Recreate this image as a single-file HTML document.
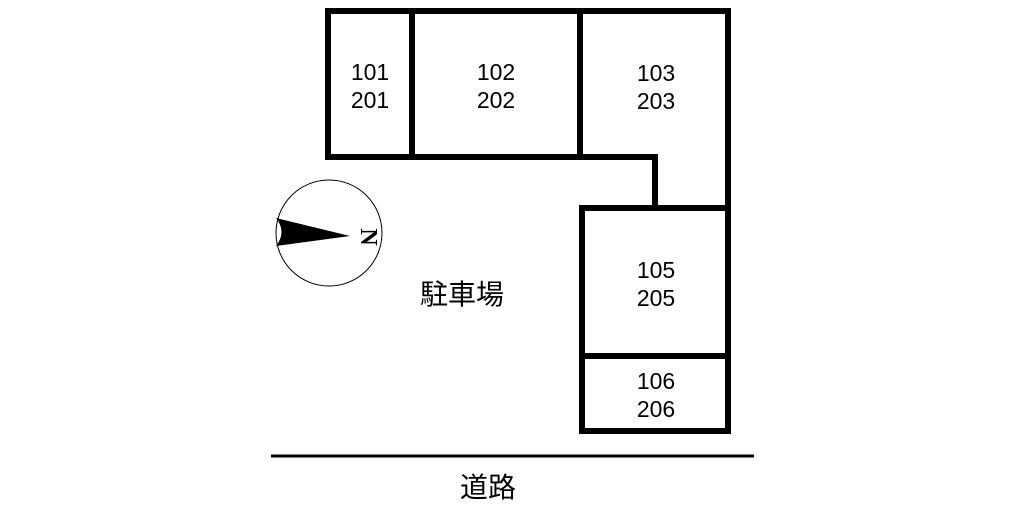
<!DOCTYPE html>
<html><head><meta charset="utf-8"><style>
body{margin:0;background:#fff;}
svg{display:block}
text{font-family:"Liberation Sans","Noto Sans CJK JP",sans-serif;font-size:23px;fill:#000;text-anchor:middle}
</style></head><body>
<svg width="1024" height="512" viewBox="0 0 1024 512">
<g stroke="#000" stroke-width="6" fill="none" stroke-linecap="square">
<path d="M328 11 H728 V431 H582 V208 H728"/>
<path d="M328 11 V157 H655 V208"/>
<line x1="412" y1="11" x2="412" y2="157"/>
<line x1="580" y1="11" x2="580" y2="157"/>
<line x1="582" y1="356" x2="728" y2="356"/>
</g>
<line x1="271" y1="456" x2="754" y2="456" stroke="#000" stroke-width="3"/>
<circle cx="329" cy="233" r="53" fill="none" stroke="#000" stroke-width="1"/>
<path d="M276 218 L350 236 L276 246 Q287 232 276 218 Z" fill="#000"/>
<text x="0" y="0" transform="translate(360,237) rotate(90)" style="font-family:'Liberation Serif',serif;font-size:24px;font-weight:bold" dy="-1">N</text>
<text x="370" y="80">101</text><text x="370" y="108">201</text>
<text x="496" y="80">102</text><text x="496" y="108">202</text>
<text x="656" y="81">103</text><text x="656" y="109">203</text>
<text x="656" y="278">105</text><text x="656" y="306">205</text>
<text x="656" y="389">106</text><text x="656" y="417">206</text>
<text x="462" y="304" style="font-size:28px">駐車場</text>
<text x="488" y="497" style="font-size:28px">道路</text>
</svg>
</body></html>
